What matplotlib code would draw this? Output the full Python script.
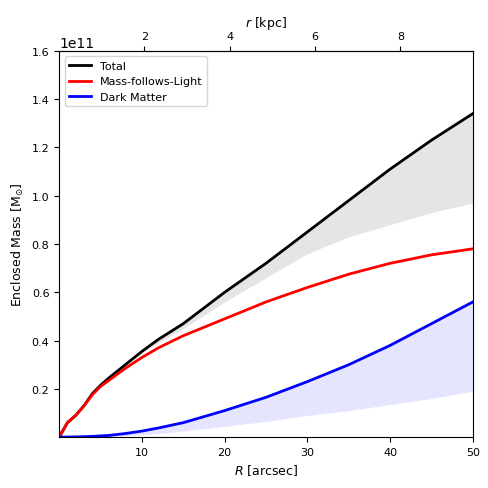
import matplotlib
matplotlib.use("Agg")
import matplotlib.pyplot as plt
import numpy as np

R = [0,1,2,3,4,5,6,8,10,12,15,20,25,30,35,40,45,50]
total = [0,0.06,0.09,0.13,0.18,0.215,0.245,0.30,0.355,0.405,0.47,0.60,0.72,0.85,0.98,1.11,1.23,1.34]
total_low = [0,0.06,0.09,0.13,0.18,0.215,0.245,0.30,0.35,0.39,0.45,0.56,0.66,0.76,0.83,0.88,0.93,0.97]
mfl = [0,0.06,0.09,0.13,0.175,0.21,0.235,0.285,0.33,0.37,0.42,0.49,0.56,0.62,0.675,0.72,0.755,0.78]
dm = [0,0.0005,0.001,0.002,0.003,0.005,0.007,0.015,0.025,0.038,0.06,0.11,0.165,0.23,0.30,0.38,0.47,0.56]
dm_low = [0,0,0,0,0.001,0.002,0.003,0.006,0.01,0.015,0.025,0.045,0.065,0.09,0.11,0.135,0.16,0.19]
kpc_per_arcsec = 0.194

s = 1e11
R = np.array(R)
fig = plt.figure(figsize=(4.89,4.89), dpi=100)
ax = fig.add_axes([0.121,0.104,0.846,0.79])
ax.fill_between(R, np.array(total_low)*s, np.array(total)*s, color='#e5e5e5', lw=0)
ax.fill_between(R, np.array(dm_low)*s, np.array(dm)*s, color='#e5e5ff', lw=0)
ax.plot(R, np.array(total)*s, color='black', lw=2, label='Total')
ax.plot(R, np.array(mfl)*s, color='red', lw=2, label='Mass-follows-Light')
ax.plot(R, np.array(dm)*s, color='blue', lw=2, label='Dark Matter')
ax.set_xlim(0,50)
ax.set_ylim(0,1.6e11)
ax.set_yticks(np.arange(0.2,1.61,0.2)*s)
ax.set_xticks([10,20,30,40,50])
ax.tick_params(labelsize=8)
ax.yaxis.get_offset_text().set_fontsize(10)
ax.set_xlabel(r'$R$ [arcsec]', fontsize=9)
ax.set_ylabel(r'Enclosed Mass [M$_{\odot}$]', fontsize=9)
ax.legend(loc='upper left', fontsize=8)
sec = ax.secondary_xaxis('top', functions=(lambda x: x*kpc_per_arcsec, lambda x: x/kpc_per_arcsec))
sec.set_xticks([2,4,6,8])
sec.tick_params(labelsize=8)
sec.set_xlabel(r'$r$ [kpc]', fontsize=9)
fig.savefig('out.png', dpi=100)
